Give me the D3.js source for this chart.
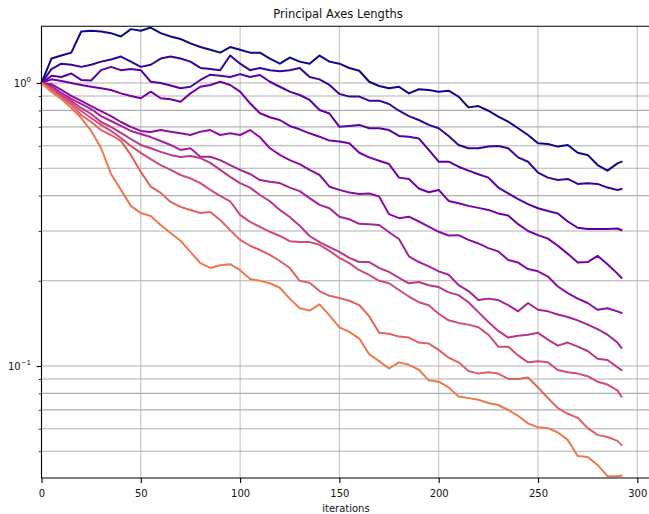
<!DOCTYPE html>
<html><head><meta charset="utf-8">
<script src="https://cdn.jsdelivr.net/npm/d3@7"></script>
<style>body{margin:0;background:#fff}svg{display:block}text{font-family:"DejaVu Sans",sans-serif;fill:#111}</style>
</head><body><svg id="c" width="649" height="514"></svg>
<script>
const iterations = [0,5,10,15,20,25,30,35,40,45,50,55,60,65,70,75,80,85,90,95,100,105,110,115,120,125,130,135,140,145,150,155,160,165,170,175,180,185,190,195,200,205,210,215,220,225,230,235,240,245,250,255,260,265,270,275,280,285,290,292];

const axis1 = [1.0,1.22,1.25,1.28,1.52,1.53,1.52,1.50,1.46,1.55,1.53,1.57,1.50,1.46,1.43,1.38,1.34,1.31,1.28,1.34,1.31,1.28,1.28,1.22,1.17,1.23,1.19,1.17,1.25,1.19,1.17,1.13,1.105,1.01,0.976,0.958,0.970,0.919,0.950,0.945,0.932,0.939,0.895,0.82,0.829,0.798,0.760,0.730,0.692,0.655,0.612,0.609,0.596,0.604,0.567,0.557,0.513,0.490,0.520,0.527];
const axis2 = [1.0,1.12,1.17,1.16,1.14,1.16,1.19,1.21,1.24,1.19,1.14,1.16,1.22,1.24,1.22,1.19,1.13,1.12,1.11,1.25,1.17,1.11,1.13,1.11,1.10,1.11,1.13,1.05,1.03,0.984,0.915,0.895,0.895,0.866,0.866,0.843,0.798,0.764,0.740,0.711,0.692,0.650,0.604,0.588,0.588,0.596,0.599,0.588,0.546,0.527,0.482,0.463,0.454,0.458,0.440,0.442,0.440,0.427,0.419,0.422];
const axis3 = [1.0,1.06,1.05,1.08,1.025,1.02,1.11,1.14,1.11,1.12,1.11,1.01,1.0,0.98,0.958,0.97,1.025,1.07,1.06,1.05,1.075,1.05,1.067,1.01,0.97,0.932,0.907,0.871,0.803,0.78,0.70,0.705,0.711,0.692,0.692,0.682,0.65,0.646,0.637,0.58,0.527,0.527,0.506,0.49,0.476,0.463,0.427,0.407,0.389,0.373,0.361,0.353,0.346,0.324,0.308,0.305,0.305,0.305,0.306,0.302];
const axis4 = [1.0,1.03,1.016,1.0,0.984,0.97,0.958,0.945,0.919,0.90,0.883,0.932,0.883,0.876,0.859,0.919,0.97,0.984,1.01,0.984,0.932,0.848,0.782,0.757,0.74,0.705,0.686,0.664,0.646,0.626,0.621,0.612,0.567,0.546,0.531,0.517,0.463,0.458,0.424,0.411,0.419,0.383,0.376,0.368,0.362,0.356,0.346,0.34,0.317,0.30,0.29,0.282,0.266,0.249,0.232,0.233,0.245,0.229,0.212,0.205];
const axis5 = [1.0,0.99,0.945,0.90,0.864,0.829,0.796,0.764,0.728,0.70,0.677,0.671,0.682,0.673,0.664,0.655,0.673,0.682,0.655,0.664,0.655,0.682,0.643,0.588,0.557,0.534,0.517,0.493,0.473,0.43,0.419,0.41,0.405,0.407,0.397,0.344,0.333,0.337,0.324,0.311,0.298,0.289,0.29,0.279,0.271,0.261,0.254,0.237,0.232,0.22,0.216,0.207,0.191,0.181,0.173,0.167,0.158,0.16,0.156,0.154];
const axis6 = [1.0,0.976,0.922,0.878,0.843,0.809,0.764,0.734,0.705,0.677,0.66,0.644,0.624,0.604,0.58,0.588,0.549,0.549,0.534,0.513,0.493,0.477,0.454,0.448,0.443,0.427,0.415,0.392,0.371,0.361,0.337,0.33,0.318,0.317,0.315,0.297,0.281,0.244,0.233,0.225,0.216,0.21,0.193,0.184,0.171,0.173,0.171,0.164,0.156,0.167,0.158,0.156,0.152,0.149,0.145,0.14,0.135,0.129,0.121,0.116];
const axis7 = [1.0,0.96,0.907,0.864,0.816,0.777,0.728,0.70,0.666,0.634,0.604,0.588,0.571,0.557,0.548,0.552,0.543,0.522,0.493,0.466,0.443,0.427,0.402,0.382,0.356,0.336,0.313,0.288,0.274,0.263,0.253,0.241,0.233,0.233,0.222,0.215,0.205,0.196,0.198,0.193,0.19,0.182,0.178,0.168,0.155,0.143,0.133,0.126,0.128,0.129,0.131,0.124,0.118,0.121,0.117,0.113,0.106,0.105,0.099,0.0968];
const axis8 = [1.0,0.952,0.893,0.85,0.796,0.752,0.711,0.677,0.639,0.599,0.566,0.538,0.513,0.493,0.473,0.46,0.443,0.419,0.399,0.382,0.342,0.323,0.31,0.298,0.288,0.276,0.274,0.274,0.268,0.255,0.241,0.231,0.218,0.21,0.20,0.196,0.1856,0.176,0.168,0.164,0.153,0.145,0.142,0.14,0.137,0.129,0.117,0.117,0.109,0.103,0.104,0.103,0.0968,0.095,0.094,0.092,0.088,0.086,0.082,0.078];
const axis9 = [1.0,0.945,0.885,0.836,0.771,0.728,0.682,0.655,0.624,0.557,0.485,0.43,0.409,0.38,0.365,0.356,0.347,0.35,0.328,0.302,0.279,0.266,0.257,0.247,0.235,0.222,0.20,0.197,0.184,0.177,0.174,0.17,0.164,0.15,0.131,0.13,0.127,0.126,0.121,0.12,0.114,0.107,0.103,0.096,0.094,0.095,0.094,0.09,0.09,0.091,0.084,0.077,0.071,0.0678,0.0656,0.0603,0.0571,0.0561,0.0544,0.0526];
const axis10 = [1.0,0.93,0.878,0.816,0.752,0.677,0.589,0.477,0.419,0.368,0.347,0.339,0.315,0.295,0.277,0.253,0.231,0.222,0.227,0.229,0.218,0.203,0.20,0.196,0.189,0.173,0.16,0.157,0.165,0.151,0.137,0.132,0.125,0.11,0.104,0.098,0.103,0.101,0.097,0.089,0.088,0.084,0.078,0.077,0.076,0.074,0.0728,0.0699,0.0666,0.0627,0.0607,0.0603,0.0582,0.0548,0.0481,0.0477,0.0447,0.0408,0.0408,0.041];

const series = [axis1,axis2,axis3,axis4,axis5,axis6,axis7,axis8,axis9,axis10];
const xTicks = [0,50,100,150,200,250,300];
const yMajorTicks = [0.1,1];
const yMajorLabels = [["10","\u22121"],["10","0"]];
const yMinorTicks = [0.05,0.06,0.07,0.08,0.09,0.2,0.3,0.4,0.5,0.6,0.7,0.8,0.9];
const titleText = "Principal Axes Lengths";
const xLabelText = "iterations";

const pL = 41.5, pR = 650.4, pT = 26.3, pB = 478;
const svg = d3.select("#c");
const x = d3.scaleLinear().domain([0, 306.6]).range([pL, pR]);
const y = d3.scaleLog().domain([0.0402, 1.586]).range([pB, pT]);

// grid
const grid = svg.append("g");
grid.selectAll("line.v").data(xTicks).join("line").attr("class", "v")
  .attr("x1", d => x(d)).attr("x2", d => x(d)).attr("y1", pT).attr("y2", pB)
  .attr("stroke", "#c4c4c4").attr("stroke-width", 1.1);
grid.selectAll("line.h").data(yMajorTicks.concat(yMinorTicks)).join("line").attr("class", "h")
  .attr("x1", pL).attr("x2", pR).attr("y1", d => y(d)).attr("y2", d => y(d))
  .attr("stroke", "#b0b0b0").attr("stroke-width", 1.1);

// lines
const line = d3.line().x((d, i) => x(iterations[i])).y(d => y(d));
svg.append("g").selectAll("path").data(series).join("path")
  .attr("d", d => line(d))
  .attr("fill", "none")
  .attr("stroke", (d, i) => d3.interpolatePlasma(i * 0.074))
  .attr("stroke-width", 2)
  .attr("stroke-linejoin", "round")
  .attr("stroke-linecap", "square");

// x axis
const xAxis = svg.append("g").attr("transform", `translate(0,${pB})`)
  .call(d3.axisBottom(x).tickValues(xTicks).tickSize(4.9).tickPadding(4.9).tickFormat(d3.format("d")));
xAxis.select(".domain").remove();
xAxis.selectAll("line").attr("stroke", "#000").attr("stroke-width", 1.1);
xAxis.selectAll("text").attr("font-size", 10).attr("font-family", "DejaVu Sans").attr("dy", "0.92em").attr("fill", "#111");

// y axis major
const yAxis = svg.append("g").attr("transform", `translate(${pL},0)`)
  .call(d3.axisLeft(y).tickValues(yMajorTicks).tickSize(4.9).tickFormat(""));
yAxis.select(".domain").remove();
yAxis.selectAll("line").attr("stroke", "#000").attr("stroke-width", 1.1);
const yMinor = svg.append("g").attr("transform", `translate(${pL},0)`)
  .call(d3.axisLeft(y).tickValues(yMinorTicks).tickSize(2.8).tickFormat(""));
yMinor.select(".domain").remove();
yMinor.selectAll("line").attr("stroke", "#000").attr("stroke-width", 0.8);

const lab = svg.append("g").selectAll("text").data(yMajorTicks).join("text")
  .attr("x", 31).attr("y", d => y(d) + 3.6)
  .attr("text-anchor", "end").attr("font-size", 10);
lab.append("tspan").text((d, i) => yMajorLabels[i][0]);
lab.append("tspan").attr("dy", -4.2).attr("font-size", 7).text((d, i) => yMajorLabels[i][1]);

// spines
svg.append("line").attr("x1", pL).attr("x2", pL).attr("y1", pT).attr("y2", pB)
  .attr("stroke", "#000").attr("stroke-width", 1.1);
svg.append("line").attr("x1", pL).attr("x2", pR).attr("y1", pB).attr("y2", pB)
  .attr("stroke", "#000").attr("stroke-width", 1.1);
svg.append("line").attr("x1", pL).attr("x2", pR).attr("y1", pT).attr("y2", pT)
  .attr("stroke", "#000").attr("stroke-width", 1.1);

// title & label
svg.append("text").attr("x", 338).attr("y", 18).attr("text-anchor", "middle")
  .attr("font-size", 11.5).text(titleText);
svg.append("text").attr("x", (pL + pR) / 2).attr("y", 512).attr("text-anchor", "middle")
  .attr("font-size", 10).text(xLabelText);
</script></body></html>
